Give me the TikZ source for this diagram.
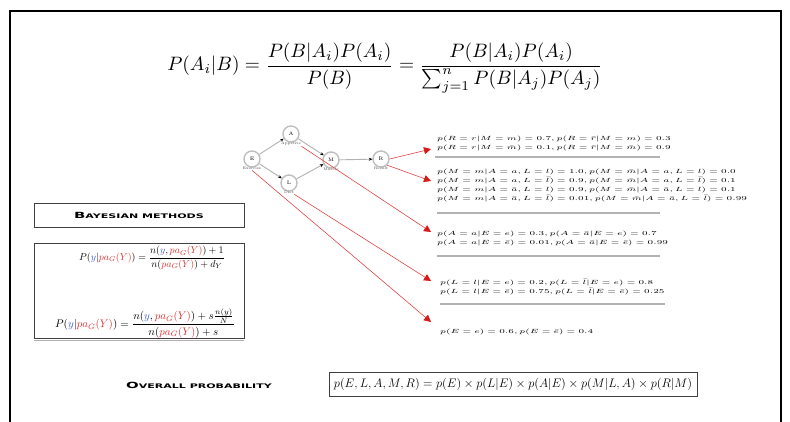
\documentclass[tikz,border=0pt]{standalone}
\usepackage{amsmath}
\usepackage{fontspec}
\newfontfamily\cpfont{DejaVu Sans}
\usetikzlibrary{arrows.meta}
\definecolor{redln}{RGB}{225,70,70}
\definecolor{redhd}{RGB}{215,25,25}
\definecolor{bluev}{RGB}{60,90,210}
\definecolor{redv}{RGB}{220,50,50}
\newcommand\tbl[1]{\scalebox{1.53}[1]{\fontsize{6.5}{9}\selectfont\begin{tabular}{@{}l@{}}#1\end{tabular}}}
\newcommand\fsc[2]{\scalebox{1.75}[1]{\cpfont\bfseries\fontsize{8.5}{9}\selectfont #1\fontsize{6.3}{9}\selectfont #2}}
\newcommand\yy{\textcolor{bluev}{y}}
\newcommand\pa{\textcolor{redv}{pa_G(Y)}}
\begin{document}
\begin{tikzpicture}[x=1pt,y=-1pt,
  bn/.style={circle,draw=gray!50,line width=1.4pt,minimum size=16pt,inner sep=0pt,font=\fontsize{5}{5}\selectfont},
  bnlab/.style={font=\fontsize{5}{5}\selectfont,text=gray!60!black,inner sep=0.5pt,scale=0.75},
  bnedge/.style={draw=gray!60,line width=0.9pt,-{Stealth[length=3.5pt,width=3pt,black]}},
  redarr/.style={draw=redln,line width=0.6pt,-{Triangle[length=7pt,width=7pt,redhd]}},
  tbl/.style={anchor=north west,inner sep=0pt,align=left},
  rulel/.style={draw=gray!60,line width=2pt},
  box/.style={draw=black!75,line width=0.8pt,inner sep=0pt}
]
\useasboundingbox (0,0) rectangle (790,421);
\fill[white] (0,0) rectangle (790,421);
\draw[line width=2pt] (10,430) -- (10,11) -- (781,11) -- (781,430);

% Bayes formula
\node (bayes) at (385,68) {\scalebox{1.94}{$\displaystyle P(A_i|B)=\frac{P(B|A_i)P(A_i)}{P(B)}=\frac{P(B|A_i)P(A_i)}{\sum_{j=1}^{n}P(B|A_j)P(A_j)}$}};

% network
\node[bn] (E) at (252,159) {E};
\node[bn] (A) at (291,134) {A};
\node[bn] (L) at (289,183) {L};
\node[bn] (M) at (331,160) {M};
\node[bn] (R) at (381,159) {R};
\node[bnlab,anchor=north] (lE) at ([yshift=1pt]E.south) {Exercise};
\node[bnlab,anchor=north] (lA) at ([yshift=1pt]A.south) {Appetite};
\node[bnlab,anchor=north] (lL) at ([yshift=1pt]L.south) {Diet};
\node[bnlab,anchor=north] (lM) at ([yshift=1pt]M.south) {Muscle};
\node[bnlab,anchor=north] (lR) at ([yshift=1pt]R.south) {Result};
\draw[bnedge] (E) -- (A);
\draw[bnedge] (E) -- (L);
\draw[bnedge] (A) -- (M);
\draw[bnedge] (L) -- (M);
\draw[bnedge] (M) -- (R);

% tables
\node[tbl] (t1) at (437,134) {\tbl{$p(R=r|M=m)=0.7, p(R=\bar r|M=m)=0.3$\\ $p(R=r|M=\bar m)=0.1, p(R=\bar r|M=\bar m)=0.9$}};
\node[tbl] (t2) at (437,167) {\tbl{$p(M=m|A=a,L=l)=1.0, p(M=\bar m|A=a,L=l)=0.0$\\ $p(M=m|A=a,L=\bar l)=0.9, p(M=\bar m|A=a,L=\bar l)=0.1$\\ $p(M=m|A=\bar a,L=l)=0.9, p(M=\bar m|A=\bar a,L=l)=0.1$\\ $p(M=m|A=\bar a,L=\bar l)=0.01, p(M=\bar m|A=\bar a,L=\bar l)=0.99$}};
\node[tbl] (t3) at (437,229) {\tbl{$p(A=a|E=e)=0.3, p(A=\bar a|E=e)=0.7$\\ $p(A=a|E=\bar e)=0.01, p(A=\bar a|E=\bar e)=0.99$}};
\node[tbl] (t4) at (440,278) {\tbl{$p(L=l|E=e)=0.2, p(L=\bar l|E=e)=0.8$\\ $p(L=l|E=\bar e)=0.75, p(L=\bar l|E=\bar e)=0.25$}};
\node[tbl] (t5) at (440,327) {\tbl{$p(E=e)=0.6, p(E=\bar e)=0.4$}};
\draw[rulel] (435,157) -- (660,157);
\draw[rulel] (437,213) -- (660,213);
\draw[rulel] (437,256) -- (660,256);
\draw[rulel] (440,304) -- (665,304);

% red arrows
\coordinate (cR1) at (431,149);
\coordinate (cR2) at (431,181);
\coordinate (cA) at (431,232);
\coordinate (cL) at (431,281);
\coordinate (cE) at (431,322);
\draw[redarr] (R.east) -- (cR1);
\draw[redarr] (R.south east) -- (cR2);
\draw[redarr] (lA.south east) -- (cA);
\draw[redarr] (lL.south east) -- (cL);
\draw[redarr] (lE.south) -- (cE);

% left boxes
\node[box,minimum width=210pt,minimum height=24pt] (bm) at (139,215) {\fsc{B}{AYESIAN METHODS}};
\node[box,minimum width=210pt,minimum height=95pt] (fb) at (139,290.5) {};
\draw[gray!60,line width=1.5pt] (fb.south west) ++(0,2) -- ++(210,0);
\node (f1) at (152,258) {$P(\yy|\pa)=\dfrac{n(\yy,\pa)+1}{n(\pa)+d_Y}$};
\node (f2) at (145,323) {\scalebox{1.1}{$P(\yy|\pa)=\dfrac{n(\yy,\pa)+s\frac{n(y)}{N}}{n(\pa)+s}$}};

% bottom
\node (op) at (199,385) {\fsc{O}{VERALL PROBABILITY}};
\node[box,minimum height=24pt,minimum width=368pt] (pf) at (513,384) {\scalebox{1.03}{\fontsize{12}{14}\selectfont $p(E,L,A,M,R)=p(E)\times p(L|E)\times p(A|E)\times p(M|L,A)\times p(R|M)$}};
\end{tikzpicture}
\end{document}
